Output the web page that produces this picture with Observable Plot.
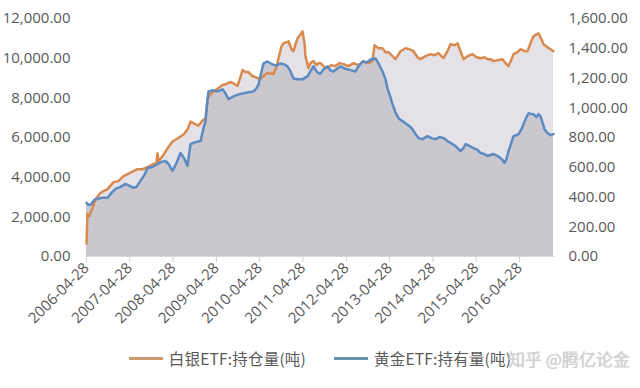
<!DOCTYPE html>
<html><head><meta charset="utf-8">
<script src="https://cdn.jsdelivr.net/npm/d3@7"></script>
<script src="https://cdn.jsdelivr.net/npm/@observablehq/plot@0.6"></script>
<style>
body{margin:0;background:#fff;font-family:"Open Sans","Noto Sans CJK SC",sans-serif;}
#chart{width:640px;height:388px;position:relative;overflow:hidden;background:#fff}
#legend{position:absolute;left:0;top:340px;width:640px;height:36px;display:flex;align-items:center;justify-content:center;font-family:"Noto Sans CJK SC","Open Sans",sans-serif;font-size:15.5px;letter-spacing:0.2px;color:#595959}
.item{display:flex;align-items:center;margin:0 14px}
.sw{width:34px;height:3px;margin-right:6px}
#wm{position:absolute;left:508px;top:346px;font-family:"Noto Sans CJK SC",sans-serif;font-size:17px;color:#d4d4d4;text-shadow:0 0 1px #bdbdbd;letter-spacing:0px}
</style></head><body><div id="chart"></div><script>
const silverDates = ["2006-04-28","2006-05-06","2006-05-23","2006-06-18","2006-07-13","2006-08-24","2006-09-18","2006-10-22","2006-12-12","2007-01-23","2007-03-06","2007-04-09","2007-05-29","2007-07-02","2007-08-13","2007-09-25","2007-11-06","2007-12-09","2007-12-18","2007-12-26","2008-01-29","2008-03-11","2008-04-22","2008-06-04","2008-07-24","2008-08-27","2008-09-21","2008-10-25","2008-11-28","2008-12-31","2009-01-26","2009-02-12","2009-03-09","2009-04-03","2009-05-15","2009-06-18","2009-07-22","2009-08-25","2009-09-27","2009-10-23","2009-11-17","2009-12-04","2009-12-29","2010-01-23","2010-02-26","2010-04-09","2010-05-05","2010-05-30","2010-07-03","2010-08-22","2010-09-17","2010-10-04","2010-10-29","2010-11-15","2010-12-10","2010-12-27","2011-01-21","2011-02-07","2011-02-24","2011-03-13","2011-04-07","2011-04-24","2011-05-11","2011-05-19","2011-06-14","2011-06-30","2011-07-26","2011-08-20","2011-09-06","2011-09-23","2011-10-27","2011-11-21","2011-12-25","2012-01-27","2012-03-01","2012-04-04","2012-05-16","2012-06-27","2012-08-08","2012-09-19","2012-11-01","2012-12-04","2012-12-21","2013-01-24","2013-02-27","2013-03-24","2013-04-18","2013-05-22","2013-06-16","2013-07-29","2013-09-09","2013-10-13","2013-11-15","2013-12-19","2014-01-13","2014-02-24","2014-04-08","2014-05-11","2014-06-14","2014-07-26","2014-08-29","2014-09-23","2014-10-27","2014-11-21","2014-12-17","2015-01-11","2015-02-14","2015-03-28","2015-05-01","2015-06-03","2015-07-07","2015-08-01","2015-08-27","2015-09-21","2015-10-25","2015-12-06","2015-12-31","2016-01-26","2016-02-20","2016-03-08","2016-04-11","2016-05-06","2016-06-09","2016-07-04","2016-07-29","2016-08-23","2016-09-18","2016-10-05","2016-10-30","2016-11-16","2016-12-19","2017-01-14","2017-02-08"];
const silverValues = [650,2150,2050,2450,2900,3200,3300,3400,3750,3800,4050,4150,4300,4400,4400,4500,4650,4700,5200,4800,5050,5450,5800,5950,6150,6400,6800,6700,6600,6850,6950,7950,8200,8300,8500,8650,8700,8800,8700,8600,9050,9400,9300,9300,9100,9000,8950,9100,9250,9200,9550,10000,10600,10750,10800,10850,10450,10350,10700,11000,11200,11350,10750,10100,9500,9750,9850,9650,9750,9750,9550,9500,9650,9600,9750,9700,9600,9750,9650,9850,9750,9850,10650,10500,10500,10300,10300,10100,9950,10350,10500,10450,10350,10050,9950,10100,10200,10150,10250,10000,10350,10700,10650,10750,10350,9950,10100,10200,10050,10000,10050,9950,9950,9850,9900,9950,9750,9600,9950,10200,10300,10450,10350,10350,10750,11100,11200,11250,10950,10700,10550,10450,10350];
const goldDates = ["2006-04-28","2006-05-15","2006-06-01","2006-07-04","2006-07-30","2006-09-10","2006-10-22","2006-11-25","2006-12-29","2007-02-09","2007-03-23","2007-04-26","2007-05-29","2007-06-24","2007-07-27","2007-08-30","2007-09-25","2007-11-06","2007-12-18","2008-01-21","2008-02-23","2008-03-20","2008-04-22","2008-05-26","2008-06-29","2008-08-02","2008-08-27","2008-09-21","2008-11-02","2008-12-15","2009-01-09","2009-01-26","2009-02-12","2009-02-20","2009-03-26","2009-05-07","2009-06-18","2009-07-13","2009-08-08","2009-09-19","2009-10-31","2009-12-12","2010-01-23","2010-03-07","2010-04-01","2010-04-18","2010-05-13","2010-05-30","2010-07-03","2010-08-14","2010-09-17","2010-10-20","2010-11-23","2010-12-18","2011-01-13","2011-02-07","2011-03-13","2011-04-24","2011-05-19","2011-06-05","2011-06-30","2011-07-26","2011-08-20","2011-09-06","2011-09-23","2011-10-18","2011-11-21","2011-12-16","2012-01-10","2012-02-13","2012-03-09","2012-04-12","2012-05-08","2012-06-10","2012-07-14","2012-08-08","2012-09-11","2012-10-15","2012-11-18","2012-12-30","2013-01-24","2013-02-27","2013-03-24","2013-04-10","2013-05-05","2013-05-22","2013-06-16","2013-07-12","2013-08-14","2013-09-09","2013-10-13","2013-11-07","2013-12-02","2013-12-27","2014-01-30","2014-03-13","2014-04-16","2014-05-20","2014-06-23","2014-07-26","2014-08-29","2014-10-10","2014-11-13","2014-12-17","2015-01-11","2015-01-28","2015-03-03","2015-04-05","2015-05-09","2015-06-03","2015-07-07","2015-08-01","2015-08-27","2015-09-21","2015-10-25","2015-11-19","2015-12-06","2015-12-23","2016-01-09","2016-01-26","2016-02-20","2016-03-08","2016-04-02","2016-04-19","2016-05-14","2016-05-31","2016-06-25","2016-07-12","2016-08-07","2016-08-23","2016-09-18","2016-10-05","2016-10-21","2016-11-07","2016-11-24","2016-12-19","2017-01-14","2017-02-08"];
const goldValues = [361,348,348,381,388,395,395,428,455,468,488,475,462,468,508,549,595,602,622,636,642,622,575,629,696,656,609,756,769,776,863,910,1057,1110,1117,1110,1124,1097,1057,1077,1090,1097,1104,1110,1131,1157,1244,1298,1311,1291,1284,1298,1291,1278,1244,1197,1191,1191,1204,1211,1244,1278,1244,1231,1231,1258,1278,1251,1244,1264,1278,1264,1258,1251,1244,1278,1311,1304,1325,1331,1298,1244,1191,1131,1070,1024,970,930,910,896,876,856,823,796,789,809,796,789,803,796,776,756,736,709,729,756,743,729,716,696,689,676,682,689,676,662,649,629,656,709,769,809,816,823,856,890,937,963,957,957,937,957,943,903,856,830,816,823];
const leftTicks = [0,2000,4000,6000,8000,10000,12000];
const rightTicks = [0,200,400,600,800,1000,1200,1400,1600];
const xTickLabels = ["2006-04-28","2007-04-28","2008-04-28","2009-04-28","2010-04-28","2011-04-28","2012-04-28","2013-04-28","2014-04-28","2015-04-28","2016-04-28"];
const xDomain = ["2006-04-28","2017-02-25"];
const seriesNames = ["白银ETF:持仓量(吨)","黄金ETF:持有量(吨)"];
const legendColors = ["#c89a6c","#6a93aa"];
const watermark = "知乎 @腾亿论金";

const parse = d3.utcParse("%Y-%m-%d");
const ratio = leftTicks[leftTicks.length-1] / rightTicks[rightTicks.length-1];
const silver = silverDates.map((d,i)=>({date:parse(d), v:silverValues[i]}));
const gold = goldDates.map((d,i)=>({date:parse(d), v:goldValues[i]*ratio}));
const fmt = d3.format(",.2f");

const chart = Plot.plot({
  width:640, height:340,
  marginTop:18, marginBottom:84, marginLeft:86, marginRight:85,
  x:{type:"utc", domain:xDomain.map(parse)},
  y:{domain:[0,12000]},
  style:{fontFamily:'"Open Sans",sans-serif', fontSize:"15px", color:"#595959", background:"transparent"},
  marks:[
    Plot.areaY(silver,{x:"date", y:"v", fill:"#e4e2e7"}),
    Plot.areaY(gold,{x:"date", y:"v", fill:"#cbc7ce"}),
    Plot.ruleY([0],{stroke:"#d9d9d9"}),
    Plot.lineY(silver,{x:"date", y:"v", stroke:"#d98a4e", strokeWidth:2.5}),
    Plot.lineY(gold,{x:"date", y:"v", stroke:"#5b8bc1", strokeWidth:2.5}),
    Plot.axisY({anchor:"left", ticks:leftTicks, tickFormat:fmt, tickSize:0, tickPadding:16, label:null}),
    Plot.axisY({anchor:"right", ticks:rightTicks.map(t=>t*ratio), tickFormat:d=>fmt(d/ratio), tickSize:0, tickPadding:13, label:null}),
    Plot.axisX({ticks:xTickLabels.map(parse), tickFormat:d3.utcFormat("%Y-%m-%d"), tickRotate:-45, tickSize:6, tickPadding:3, stroke:"#d0d0d0", label:null})
  ]
});
const root = document.getElementById("chart");
root.appendChild(chart);
const legend = document.createElement("div");
legend.id = "legend";
seriesNames.forEach((n,i)=>{
  const it = document.createElement("div"); it.className="item";
  const sw = document.createElement("div"); sw.className="sw"; sw.style.background=legendColors[i];
  const tx = document.createElement("span"); tx.textContent=n;
  it.appendChild(sw); it.appendChild(tx); legend.appendChild(it);
});
root.appendChild(legend);
const wm = document.createElement("div"); wm.id="wm"; wm.textContent=watermark;
root.appendChild(wm);
</script></body></html>
